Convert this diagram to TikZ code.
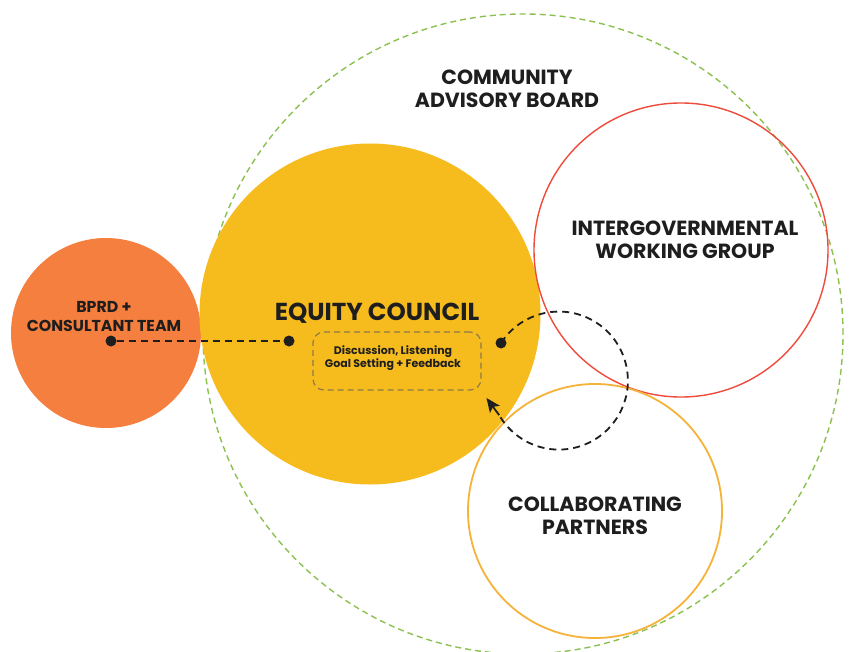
\documentclass[tikz,border=0pt]{standalone}
\usepackage{fontspec}
\setmainfont{Poppins}
\usetikzlibrary{arrows.meta}
\definecolor{cgreen}{HTML}{8CC152}
\definecolor{corange}{HTML}{F47F3F}
\definecolor{cyellow}{HTML}{F6BC1E}
\definecolor{cred}{HTML}{EE4B3B}
\definecolor{ccollab}{HTML}{F6B33A}
\definecolor{cdark}{HTML}{1E1E1E}
\definecolor{cbox}{HTML}{8C7A48}
\tikzset{
  disc/.style={circle, inner sep=0pt, minimum size=#1},
  lbl/.style={font=\bfseries, text=cdark, align=center, inner sep=0pt},
  conn/.style={draw=cdark, line width=1.8pt, dash pattern=on 7pt off 5pt},
  enddot/.style={circle, fill=cdark, inner sep=0pt, minimum size=11pt}
}
\begin{document}
\begin{tikzpicture}[x=1pt,y=-1pt]
\useasboundingbox (0,0) rectangle (850,652);
\fill[white] (0,0) rectangle (850,652);
% community advisory board
\node[disc=640pt, draw=cgreen, line width=1.4pt, dash pattern=on 6pt off 4pt] (cab) at (523,334) {};
% filled circles
\node[disc=190pt, fill=corange] (bprd) at (106,333) {};
\node[disc=341pt, fill=cyellow] (eq) at (370,314) {};
% outlined circles
\node[disc=294pt, draw=cred, line width=1.4pt] (igwg) at (681,250) {};
\node[disc=254pt, draw=ccollab, line width=1.8pt] (collab) at (595,511) {};
% labels
\node[lbl, font=\bfseries\fontsize{20.5}{23.5}\selectfont] (cabt) at (507,89) {COMMUNITY\\ADVISORY BOARD};
\node[lbl, font=\bfseries\fontsize{20.5}{23.5}\selectfont] (igwgt) at (685,240) {INTERGOVERNMENTAL\\WORKING GROUP};
\node[lbl, font=\bfseries\fontsize{20.5}{23.5}\selectfont] (collabt) at (595,516) {COLLABORATING\\PARTNERS};
\node[lbl, font=\bfseries\fontsize{15.8}{19}\selectfont] (bprdt) at (104,317) {BPRD +\\CONSULTANT TEAM};
\node[lbl, font=\bfseries\fontsize{24.5}{28}\selectfont] (eqt) at (377,313) {EQUITY COUNCIL};
% discussion box
\node[draw=cbox, line width=1.2pt, dash pattern=on 6pt off 4pt, rounded corners=11pt,
      minimum width=168pt, minimum height=58pt, inner sep=0pt] (box) at (397,361) {};
\node[lbl, font=\bfseries\fontsize{11}{13.5}\selectfont] (boxt) at (393,358) {Discussion, Listening\\Goal Setting + Feedback};
% connectors
\node[enddot] (d1) at (111,341) {};
\node[enddot] (d2) at (289,341) {};
\draw[conn] (d1) -- (d2);
\node[enddot] (d3) at (501,343) {};
\draw[conn] (d3.center) arc[start angle=-147, end angle=150, radius=69] coordinate (arcend);
\coordinate (tip) at (486.5,398);
\draw[cdark, line width=1.8pt, -{Stealth[length=14pt,width=12pt,inset=3pt]}] (arcend) -- (tip);
\end{tikzpicture}
\end{document}
